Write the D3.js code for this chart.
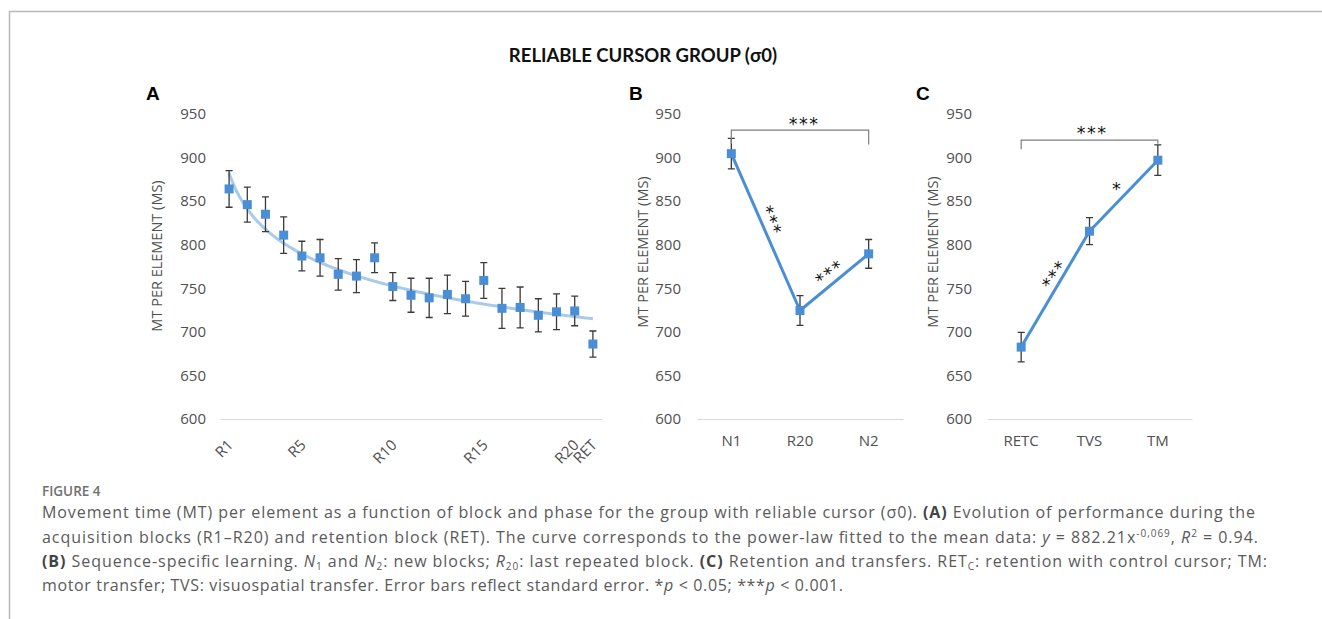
<!DOCTYPE html>
<html>
<head>
<meta charset="utf-8">
<script src="https://cdn.jsdelivr.net/npm/d3@7"></script>
<style>
  html, body { margin: 0; padding: 0; background: #fff; }
  svg { display: block; }
</style>
</head>
<body>
<svg id="chart" width="1322" height="619"></svg>
<script>
// ---------------- DATA ----------------
const yTickValues = [600, 650, 700, 750, 800, 850, 900, 950];

// Panel A: acquisition blocks + retention
const catsA = ["R1","R2","R3","R4","R5","R6","R7","R8","R9","R10",
               "R11","R12","R13","R14","R15","R16","R17","R18","R19","R20","RET"];
const valsA = [864, 846, 835, 811, 787, 785, 766, 764, 785, 752,
               742, 739, 743, 738, 759, 727, 728, 719, 723, 724, 686];
const errsA = [21, 20, 20, 21, 17, 21, 18, 19, 17, 16,
               19.5, 22.5, 22, 20, 20.5, 23, 23.5, 19, 20.5, 17, 15];
const tickLabelsA = ["R1","R5","R10","R15","R20","RET"];
// power-law fit reported in the caption: y = 882.21 x^-0.069
const fitCoef = 882.21;
const fitExp = -0.069;

// Panel B: sequence-specific learning
const catsB = ["N1","R20","N2"];
const valsB = [904.5, 724.5, 789.5];
const errsB = [17.5, 17, 16.5];

// Panel C: retention and transfers
const catsC = ["RETC","TVS","TM"];
const valsC = [682.5, 815.5, 897];
const errsC = [17, 15.5, 17.5];

// ---------------- DRAW ----------------
const svg = d3.select("#chart");
const FONT = "'Open Sans', 'Noto Sans', sans-serif";
const TICK_COLOR = "#505050";
const AXIS_COLOR = "#d9d9d9";
const MARK_COLOR = "#4a8fd5";
const LINE_COLOR = "#4a8fd5";
const FIT_COLOR = "#a9cbea";
const ERR_COLOR = "#3a3a3a";

// Frame
svg.append("path")
  .attr("d", "M9.5,619 L9.5,11.5 L1322,11.5")
  .attr("fill", "none").attr("stroke", "#b8b8b8").attr("stroke-width", 1.5);

// Title
svg.append("text")
  .attr("x", 643).attr("y", 62)
  .attr("text-anchor", "middle")
  .attr("font-family", "Lato, 'Open Sans', sans-serif")
  .attr("font-weight", "bold").attr("font-size", 18.5)
  .attr("fill", "#111")
  .text("RELIABLE CURSOR GROUP (σ0)");

const y = d3.scaleLinear().domain([600, 950]).range([419, 114]);

function drawPanel(cfg) {
  const g = svg.append("g");
  const x = d3.scaleBand().domain(cfg.cats).range(cfg.xRange).paddingInner(0).paddingOuter(0);
  const cx = d => x(d) + x.bandwidth() / 2;

  // y axis (labels only)
  const ya = g.append("g")
    .attr("transform", `translate(${cfg.xRange[0]},0)`)
    .call(d3.axisLeft(y).tickValues(yTickValues).tickSize(0).tickPadding(cfg.yPad));
  ya.select(".domain").remove();
  ya.selectAll("text")
    .attr("font-family", FONT).attr("font-size", 15).attr("fill", TICK_COLOR);

  // x axis
  const xa = g.append("g")
    .attr("transform", `translate(0,${y(600)})`)
    .call(d3.axisBottom(x).tickValues(cfg.tickLabels || cfg.cats).tickSize(0).tickSizeOuter(0).tickPadding(cfg.xPad || 14));
  xa.select(".domain").attr("stroke", AXIS_COLOR).attr("stroke-width", 1.2);
  xa.selectAll("text")
    .attr("font-family", FONT).attr("font-size", 15).attr("fill", TICK_COLOR);
  if (cfg.rotate) {
    xa.selectAll(".tick text")
      .attr("text-anchor", "end")
      .attr("dy", null)
      .attr("y", 0)
      .attr("transform", "translate(5,27) rotate(-45)");
  }

  // y axis title
  g.append("text")
    .attr("transform", `translate(${cfg.titleX},${cfg.titleY}) rotate(-90)`)
    .attr("text-anchor", "middle")
    .attr("font-family", FONT).attr("font-size", 14.5).attr("fill", TICK_COLOR)
    .text("MT PER ELEMENT (MS)");

  // panel letter
  g.append("text")
    .attr("x", cfg.letterX).attr("y", 100)
    .attr("font-family", "'Liberation Sans', Arial, sans-serif")
    .attr("font-weight", "bold").attr("font-size", 19).attr("fill", "#000")
    .text(cfg.letter);

  // fitted curve
  if (cfg.fit) {
    const bx = d3.scaleLinear().domain([1, cfg.cats.length]).range([cx(cfg.cats[0]), cx(cfg.cats[cfg.cats.length - 1])]);
    const ts = d3.range(1, cfg.cats.length + 0.001, 0.1);
    g.append("path")
      .datum(ts)
      .attr("fill", "none").attr("stroke", FIT_COLOR).attr("stroke-width", 3)
      .attr("d", d3.line().x(t => bx(t)).y(t => y(fitCoef * Math.pow(t, fitExp))).curve(d3.curveMonotoneX));
  }

  const pts = cfg.cats.map((c, i) => ({ c, v: cfg.vals[i], e: cfg.errs[i] }));

  // connecting line
  if (cfg.line) {
    g.append("path")
      .datum(pts)
      .attr("fill", "none").attr("stroke", LINE_COLOR).attr("stroke-width", 3)
      .attr("stroke-linejoin", "round")
      .attr("d", d3.line().x(d => cx(d.c)).y(d => y(d.v)));
  }

  // error bars
  const eb = g.append("g").attr("stroke", ERR_COLOR).attr("stroke-width", 1.3).attr("fill", "none");
  const cap = 3.5;
  pts.forEach(d => {
    const X = cx(d.c);
    eb.append("path").attr("d",
      `M${X},${y(d.v + d.e)} L${X},${y(d.v - d.e)} ` +
      `M${X - cap},${y(d.v + d.e)} L${X + cap},${y(d.v + d.e)} ` +
      `M${X - cap},${y(d.v - d.e)} L${X + cap},${y(d.v - d.e)}`);
  });

  // markers
  const ms = 9;
  g.selectAll("rect.mk").data(pts).enter().append("rect")
    .attr("class", "mk")
    .attr("x", d => cx(d.c) - ms / 2).attr("y", d => y(d.v) - ms / 2)
    .attr("width", ms).attr("height", ms)
    .attr("fill", MARK_COLOR);

  return { x, cx, g };
}

const pA = drawPanel({
  cats: catsA, vals: valsA, errs: errsA, xRange: [220, 602], tickLabels: tickLabelsA,
  rotate: true, fit: true, line: false, yPad: 14,
  titleX: 162, titleY: 256, letter: "A", letterX: 146
});
const pB = drawPanel({
  cats: catsB, vals: valsB, errs: errsB, xRange: [697, 903],
  rotate: false, fit: false, line: true, yPad: 16, xPad: 16,
  titleX: 648, titleY: 252, letter: "B", letterX: 629
});
const pC = drawPanel({
  cats: catsC, vals: valsC, errs: errsC, xRange: [987, 1192],
  rotate: false, fit: false, line: true, yPad: 15, xPad: 16,
  titleX: 938, titleY: 252, letter: "C", letterX: 916
});

// ---------------- significance annotations ----------------
function bracket(p, c1, c2, vTop, vLeft, vRight) {
  p.g.append("path")
    .attr("d", `M${p.cx(c1)},${y(vLeft)} L${p.cx(c1)},${y(vTop)} L${p.cx(c2)},${y(vTop)} L${p.cx(c2)},${y(vRight)}`)
    .attr("fill", "none").attr("stroke", "#7f7f7f").attr("stroke-width", 1.2);
}
function stars(px, py, angle, str) {
  svg.append("text")
    .attr("transform", `translate(${px},${py}) rotate(${angle})`)
    .attr("text-anchor", "middle")
    .attr("dy", "0.62em")
    .attr("font-family", "'DejaVu Sans', sans-serif")
    .attr("font-size", 17.5).attr("fill", "#111")
    .attr("letter-spacing", 1.5)
    .text(str);
}

bracket(pB, "N1", "N2", 931.5, 916, 915);
stars(804, 119, 0, "***");
stars(775.5, 219, 68, "***");
stars(827, 269, -37, "***");

bracket(pC, "RETC", "TM", 920, 909.5, 916);
stars(1092, 128, 0, "***");
stars(1051, 272, -55, "***");
stars(1117, 184, 0, "*");

// ---------------- caption ----------------
const capFont = "'Open Sans', Lato, sans-serif";
svg.append("text")
  .attr("x", 42).attr("y", 496)
  .attr("font-family", capFont).attr("font-size", 13.5).attr("font-weight", 600)
  .attr("fill", "#707070")
  .text("FIGURE 4");

const captionLines = [
  { y: 518, end: 1255, segs: [
    ["Movement time (MT) per element as a function of block and phase for the group with reliable cursor (σ0). "],
    ["(A)", "b"], [" Evolution of performance during the"] ] },
  { y: 543, end: 1258, segs: [
    ["acquisition blocks (R1–R20) and retention block (RET). The curve corresponds to the power-law fitted to the mean data: "],
    ["y", "i"], [" = 882.21x"], ["-0,069", "sup"], [", "], ["R", "i"], ["2", "sup"], [" = 0.94."] ] },
  { y: 567, end: 1267, segs: [
    ["(B)", "b"], [" Sequence-specific learning. "], ["N", "i"], ["1", "sub"], [" and "], ["N", "i"], ["2", "sub"],
    [": new blocks; "], ["R", "i"], ["20", "sub"], [": last repeated block. "], ["(C)", "b"],
    [" Retention and transfers. RET"], ["C", "sub"], [": retention with control cursor; TM:"] ] },
  { y: 591, end: 843, segs: [
    ["motor transfer; TVS: visuospatial transfer. Error bars reflect standard error. *"], ["p", "i"],
    [" < 0.05; ***"], ["p", "i"], [" < 0.001."] ] }
];

captionLines.forEach(line => {
  const t = svg.append("text")
    .attr("x", 42).attr("y", line.y)
    .attr("font-family", capFont).attr("font-size", 16)
    .attr("fill", "#5a5a5a")
    .attr("textLength", line.end - 42)
    .attr("lengthAdjust", "spacing");
  let shift = 0;
  line.segs.forEach(([s, st]) => {
    const ts = t.append("tspan").text(s);
    let target = 0;
    if (st === "b") ts.attr("font-weight", "bold").attr("fill", "#444");
    if (st === "i") ts.attr("font-style", "italic");
    if (st === "sup") { ts.attr("font-size", 10); target = -6; }
    if (st === "sub") { ts.attr("font-size", 10); target = 3; }
    if (target !== shift) { ts.attr("dy", target - shift); shift = target; }
  });
});
</script>
</body>
</html>
